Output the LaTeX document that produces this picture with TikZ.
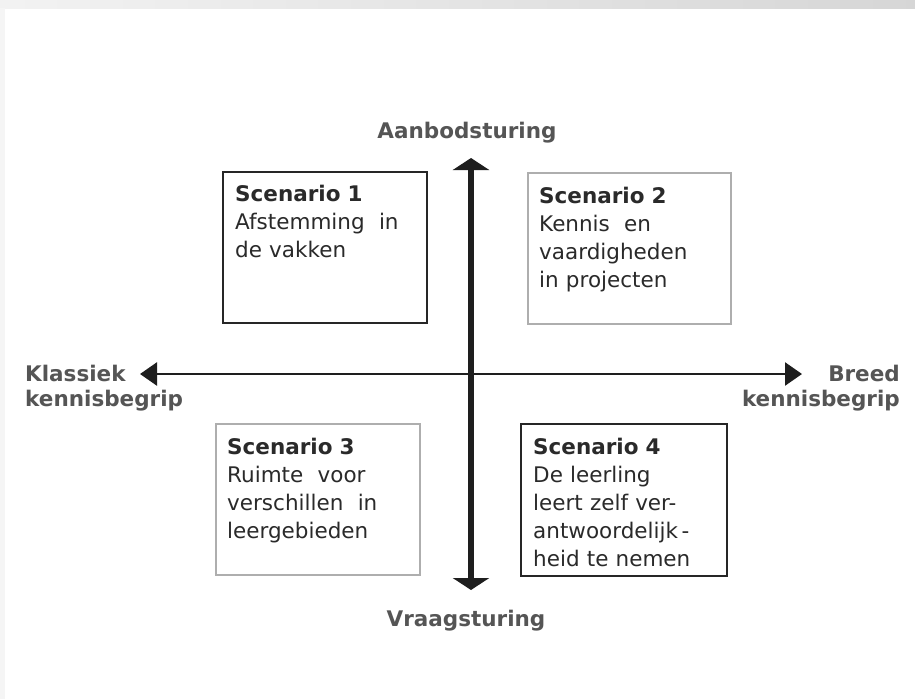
\documentclass[tikz,border=0pt]{standalone}
\usepackage{fontspec}
\setmainfont{DejaVu Sans}
\usetikzlibrary{arrows.meta}
\definecolor{axisgray}{HTML}{555555}
\definecolor{boxtext}{HTML}{2A2A2A}
\definecolor{darkline}{HTML}{262626}
\definecolor{lightline}{HTML}{AEAEAE}
\definecolor{arrowblack}{HTML}{1E1E1E}

\begin{document}
\begin{tikzpicture}[x=1pt,y=-1pt,
		scen/.style={anchor=base west,align=left,text width=190pt,inner sep=0pt,text=boxtext,font=\fontsize{21.5}{28}\selectfont},
		axislabel/.style={inner sep=0pt,text=axisgray,font=\bfseries\fontsize{21.5}{25}\selectfont}]
				\useasboundingbox(0,0)rectangle(915,699);
				\fill[white](0,0)rectangle(915,699);
				\shade[left color=gray!10,right color=gray!32](0,0)rectangle(915,8);
				\fill[gray!8](0,8)rectangle(4.5,699);
				\draw[darkline,line width=2pt](223,172)rectangle(427,323);
				\draw[lightline,line width=2pt](528,173)rectangle(731,324);
				\draw[lightline,line width=2pt](216,424)rectangle(420,575);
				\draw[darkline,line width=2pt](521,424)rectangle(727,576);
				\node[scen](s1)at(235,201){\textbf{Scenario 1}\\Afstemming\ \ in\\de vakken};
				\node[scen](s2)at(539,203){\textbf{Scenario 2}\\Kennis\ \ en\\vaardigheden\\in projecten};
				\node[scen](s3)at(227,454){\textbf{Scenario 3}\\Ruimte\ \ voor\\verschillen\ \ in\\leergebieden};
				\node[scen](s4)at(533,454){\textbf{Scenario 4}\\De leerling\\leert zelf ver-\\antwoordelijk\,-\\heid te nemen};
				\node[axislabel,anchor=base](aanbod)at(467,138){Aanbodsturing};
				\node[axislabel,anchor=base](vraag)at(466,626){Vraagsturing};
				\node[axislabel,anchor=base west,align=left,text width=170pt](klassiek)at(25,381){Klassiek\\kennisbegrip};
				\node[axislabel,anchor=base east,align=right,text width=170pt](breed)at(900,381){Breed\\kennisbegrip};
				\coordinate(west)at(140,374);
				\coordinate(east)at(802,374);
				\coordinate(north)at(471,158);
				\coordinate(south)at(471,590);
				\draw[arrowblack,line width=2.5pt,{Triangle[length=17pt,width=23pt]}-{Triangle[length=17pt,width=23pt]}](west)--(east);
				\draw[arrowblack,line width=6pt,{Triangle[length=12pt,width=36pt]}-{Triangle[length=12pt,width=36pt]}](north)--(south);
			\end{tikzpicture}
\end{document}
